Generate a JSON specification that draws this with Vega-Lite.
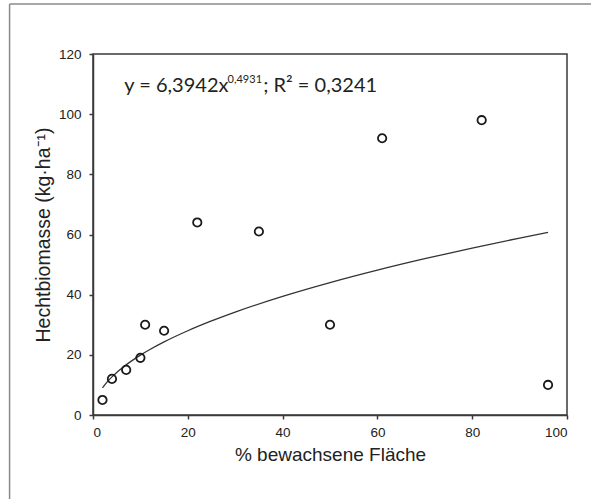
{
  "$schema": "https://vega.github.io/schema/vega-lite/v6.json",
  "width": 474,
  "height": 361,
  "autosize": "none",
  "padding": {"left": 93, "top": 54, "right": 24, "bottom": 84},
  "background": "white",
  "config": {
    "view": {"stroke": "#3a3a3a", "strokeWidth": 1.5},
    "axis": {
      "grid": false,
      "domainColor": "#3a3a3a",
      "domainWidth": 1.5,
      "tickColor": "#3a3a3a",
      "tickWidth": 1.5,
      "tickSize": 4,
      "labelFont": "Liberation Sans",
      "labelFontSize": 13.5,
      "labelColor": "#222222",
      "titleFont": "Liberation Sans",
      "titleFontSize": 19,
      "titleFontWeight": "normal",
      "titleColor": "#222222"
    }
  },
  "datasets": {
    "messung": [
      {"flaeche": 2, "biomasse": 5},
      {"flaeche": 4, "biomasse": 12},
      {"flaeche": 7, "biomasse": 15},
      {"flaeche": 10, "biomasse": 19},
      {"flaeche": 11, "biomasse": 30},
      {"flaeche": 15, "biomasse": 28},
      {"flaeche": 22, "biomasse": 64},
      {"flaeche": 35, "biomasse": 61},
      {"flaeche": 50, "biomasse": 30},
      {"flaeche": 61, "biomasse": 92},
      {"flaeche": 82, "biomasse": 98},
      {"flaeche": 96, "biomasse": 10}
    ],
    "potenzfit": [
      {"flaeche": 2, "biomasse": 9.000},
      {"flaeche": 3, "biomasse": 10.992},
      {"flaeche": 4, "biomasse": 12.667},
      {"flaeche": 5, "biomasse": 14.140},
      {"flaeche": 6, "biomasse": 15.470},
      {"flaeche": 8, "biomasse": 17.828},
      {"flaeche": 10, "biomasse": 19.902},
      {"flaeche": 12, "biomasse": 21.773},
      {"flaeche": 15, "biomasse": 24.306},
      {"flaeche": 20, "biomasse": 28.011},
      {"flaeche": 25, "biomasse": 31.268},
      {"flaeche": 30, "biomasse": 34.209},
      {"flaeche": 40, "biomasse": 39.422},
      {"flaeche": 50, "biomasse": 44.009},
      {"flaeche": 60, "biomasse": 48.150},
      {"flaeche": 70, "biomasse": 51.953},
      {"flaeche": 80, "biomasse": 55.489},
      {"flaeche": 90, "biomasse": 58.807},
      {"flaeche": 96, "biomasse": 60.710}
    ]
  },
  "layer": [
    {
      "data": {"name": "potenzfit"},
      "mark": {"type": "line", "color": "#333333", "strokeWidth": 1.3, "interpolate": "monotone"},
      "encoding": {
        "x": {
          "field": "flaeche", "type": "quantitative",
          "scale": {"domain": [0, 100], "nice": false},
          "axis": {"title": "% bewachsene Fläche", "values": [0, 20, 40, 60, 80, 100], "labelPadding": 6, "titlePadding": 7}
        },
        "y": {
          "field": "biomasse", "type": "quantitative",
          "scale": {"domain": [0, 120], "nice": false},
          "axis": {"title": "Hechtbiomasse (kg·ha⁻¹)", "titleFontSize": 19.5, "values": [0, 20, 40, 60, 80, 100, 120], "labelPadding": 8, "titlePadding": 5}
        }
      }
    },
    {
      "data": {"name": "messung"},
      "mark": {"type": "point", "shape": "circle", "filled": false, "stroke": "#1a1a1a", "strokeWidth": 1.8, "size": 70, "opacity": 1},
      "encoding": {
        "x": {"field": "flaeche", "type": "quantitative"},
        "y": {"field": "biomasse", "type": "quantitative"}
      }
    },
    {
      "data": {"values": [{"teil": "y = 6,3942x"}]},
      "mark": {"type": "text", "font": "Lato", "fontSize": 20, "color": "#231f20", "align": "left", "baseline": "alphabetic"},
      "encoding": {
        "x": {"datum": 6.6},
        "y": {"datum": 107.4},
        "text": {"field": "teil"}
      }
    },
    {
      "data": {"values": [{"teil": "0,4931"}]},
      "mark": {"type": "text", "font": "Lato", "fontSize": 11, "color": "#231f20", "align": "left", "baseline": "alphabetic"},
      "encoding": {
        "x": {"datum": 28.4},
        "y": {"datum": 110.3},
        "text": {"field": "teil"}
      }
    },
    {
      "data": {"values": [{"teil": "; R² = 0,3241"}]},
      "mark": {"type": "text", "font": "Lato", "fontSize": 20, "color": "#231f20", "align": "left", "baseline": "alphabetic"},
      "encoding": {
        "x": {"datum": 35.9},
        "y": {"datum": 107.4},
        "text": {"field": "teil"}
      }
    },
    {
      "data": {"values": [{}]},
      "mark": {"type": "rule", "color": "#8a8a8a", "strokeWidth": 1.5},
      "encoding": {
        "x": {"datum": -17.6},
        "x2": {"datum": 115},
        "y": {"datum": 136.6}
      }
    },
    {
      "data": {"values": [{}]},
      "mark": {"type": "rule", "color": "#8a8a8a", "strokeWidth": 1.5},
      "encoding": {
        "x": {"datum": -17.6},
        "y": {"datum": -30},
        "y2": {"datum": 136.6}
      }
    }
  ]
}
